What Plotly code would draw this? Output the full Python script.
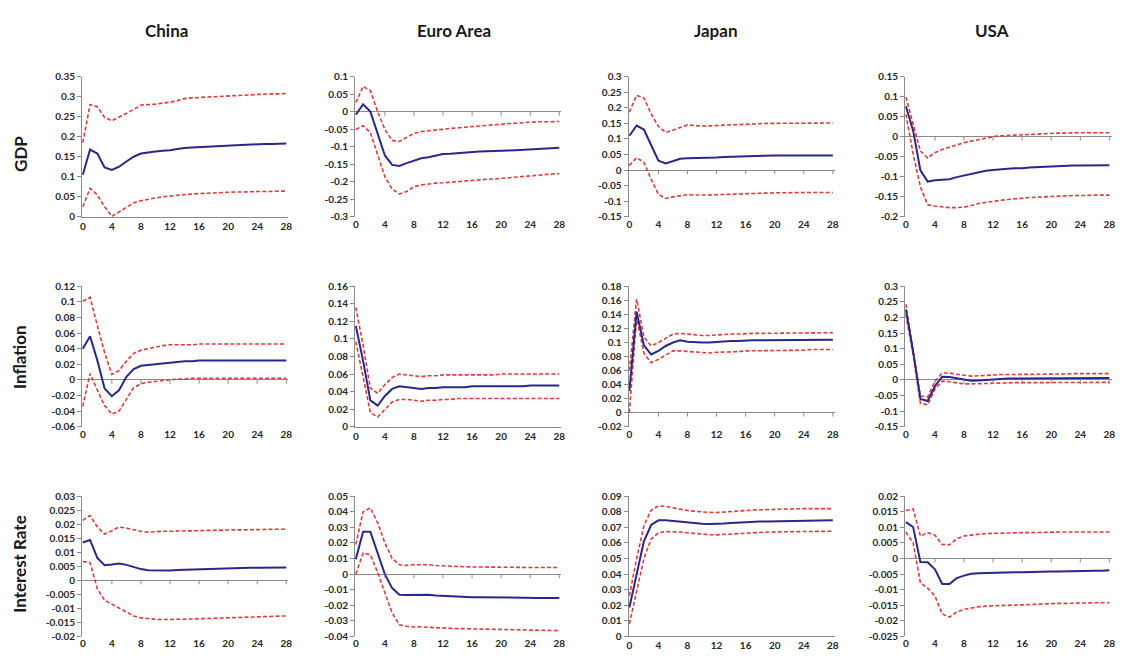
import plotly.graph_objects as go

# ---------------- data ----------------
HORIZON = list(range(29))
COUNTRIES = ["China", "Euro Area", "Japan", "USA"]
VARIABLES = ["GDP", "Inflation", "Interest Rate"]
X_TICKS = [0, 4, 8, 12, 16, 20, 24, 28]

# GDP responses
china_gdp = [0.105, 0.168, 0.158, 0.123, 0.117, 0.125, 0.138, 0.150, 0.158, 0.161, 0.163, 0.165, 0.166, 0.169, 0.172,
             0.173, 0.174, 0.175, 0.176, 0.177, 0.178, 0.179, 0.180, 0.181, 0.181, 0.182, 0.182, 0.183, 0.183]
china_gdp_hi = [0.185, 0.280, 0.275, 0.248, 0.240, 0.248, 0.258, 0.268, 0.279, 0.280, 0.281, 0.284, 0.286, 0.290, 0.295,
                0.297, 0.298, 0.299, 0.300, 0.301, 0.302, 0.303, 0.304, 0.305, 0.305, 0.306, 0.307, 0.307, 0.308]
china_gdp_lo = [0.025, 0.071, 0.055, 0.025, 0.001, 0.012, 0.025, 0.035, 0.040, 0.044, 0.047, 0.050, 0.052, 0.054, 0.056,
                0.057, 0.058, 0.059, 0.060, 0.060, 0.061, 0.062, 0.062, 0.063, 0.063, 0.063, 0.064, 0.064, 0.064]

euro_gdp = [-0.009, 0.021, 0.000, -0.065, -0.125, -0.152, -0.155, -0.147, -0.141, -0.133, -0.130, -0.126, -0.121, -0.120,
            -0.118, -0.117, -0.115, -0.114, -0.113, -0.113, -0.112, -0.111, -0.110, -0.109, -0.108, -0.107, -0.106,
            -0.105, -0.103]
euro_gdp_hi = [0.026, 0.072, 0.060, 0.000, -0.051, -0.082, -0.085, -0.073, -0.062, -0.057, -0.054, -0.052, -0.050,
               -0.048, -0.046, -0.044, -0.042, -0.040, -0.038, -0.037, -0.035, -0.034, -0.033, -0.031, -0.030, -0.029,
               -0.029, -0.028, -0.028]
euro_gdp_lo = [-0.051, -0.040, -0.060, -0.120, -0.186, -0.221, -0.235, -0.228, -0.214, -0.209, -0.206, -0.204, -0.203,
               -0.201, -0.200, -0.198, -0.196, -0.195, -0.193, -0.192, -0.190, -0.188, -0.186, -0.185, -0.183, -0.181,
               -0.180, -0.178, -0.177]

japan_gdp = [0.110, 0.143, 0.130, 0.080, 0.030, 0.021, 0.028, 0.036, 0.038, 0.038, 0.038, 0.039, 0.040, 0.042, 0.043,
             0.044, 0.045, 0.046, 0.046, 0.047, 0.047, 0.047, 0.047, 0.047, 0.047, 0.047, 0.047, 0.047, 0.047]
japan_gdp_hi = [0.186, 0.240, 0.232, 0.180, 0.140, 0.121, 0.128, 0.137, 0.145, 0.143, 0.141, 0.142, 0.143, 0.145, 0.147,
                0.148, 0.149, 0.149, 0.150, 0.150, 0.150, 0.150, 0.150, 0.150, 0.150, 0.151, 0.151, 0.151, 0.151]
japan_gdp_lo = [0.015, 0.040, 0.025, -0.030, -0.078, -0.091, -0.086, -0.082, -0.079, -0.080, -0.081, -0.080, -0.079,
                -0.078, -0.077, -0.077, -0.076, -0.075, -0.074, -0.074, -0.073, -0.073, -0.072, -0.072, -0.072, -0.072,
                -0.072, -0.072, -0.072]

usa_gdp = [0.076, 0.015, -0.084, -0.112, -0.109, -0.107, -0.106, -0.101, -0.097, -0.093, -0.088, -0.085, -0.083, -0.081,
           -0.080, -0.079, -0.079, -0.077, -0.076, -0.075, -0.074, -0.073, -0.073, -0.072, -0.072, -0.072, -0.071,
           -0.071, -0.071]
usa_gdp_hi = [0.099, 0.031, -0.036, -0.053, -0.040, -0.032, -0.026, -0.020, -0.015, -0.011, -0.007, -0.003, 0.000,
              0.002, 0.003, 0.004, 0.005, 0.006, 0.007, 0.007, 0.008, 0.009, 0.009, 0.010, 0.010, 0.010, 0.010, 0.010,
              0.010]
usa_gdp_lo = [0.056, -0.043, -0.125, -0.170, -0.173, -0.175, -0.177, -0.177, -0.176, -0.172, -0.167, -0.164, -0.161,
              -0.159, -0.157, -0.155, -0.154, -0.152, -0.151, -0.150, -0.149, -0.148, -0.148, -0.147, -0.147, -0.146,
              -0.146, -0.146, -0.146]

# Inflation responses
china_inf = [0.040, 0.056, 0.025, -0.011, -0.021, -0.013, 0.004, 0.014, 0.018, 0.019, 0.020, 0.021, 0.022, 0.023,
             0.024, 0.024, 0.025, 0.025, 0.025, 0.025, 0.025, 0.025, 0.025, 0.025, 0.025, 0.025, 0.025, 0.025, 0.025]
china_inf_hi = [0.101, 0.106, 0.070, 0.035, 0.007, 0.012, 0.024, 0.034, 0.038, 0.040, 0.042, 0.044, 0.045, 0.045,
                0.045, 0.045, 0.046, 0.046, 0.046, 0.046, 0.046, 0.046, 0.046, 0.046, 0.046, 0.046, 0.046, 0.046, 0.046]
china_inf_lo = [-0.034, 0.008, -0.013, -0.033, -0.044, -0.040, -0.025, -0.010, -0.005, -0.003, -0.002, -0.001, 0.000,
                0.001, 0.001, 0.002, 0.002, 0.002, 0.002, 0.002, 0.002, 0.002, 0.002, 0.002, 0.002, 0.002, 0.002,
                0.002, 0.002]

euro_inf = [0.115, 0.075, 0.030, 0.024, 0.035, 0.043, 0.046, 0.045, 0.044, 0.043, 0.044, 0.044, 0.045, 0.045, 0.045,
            0.045, 0.046, 0.046, 0.046, 0.046, 0.046, 0.046, 0.046, 0.046, 0.047, 0.047, 0.047, 0.047, 0.047]
euro_inf_hi = [0.136, 0.093, 0.044, 0.038, 0.048, 0.056, 0.060, 0.059, 0.058, 0.057, 0.058, 0.058, 0.059, 0.059,
               0.059, 0.059, 0.059, 0.059, 0.059, 0.059, 0.060, 0.060, 0.060, 0.060, 0.060, 0.060, 0.060, 0.060, 0.060]
euro_inf_lo = [0.097, 0.055, 0.016, 0.011, 0.020, 0.028, 0.031, 0.031, 0.030, 0.029, 0.030, 0.030, 0.031, 0.031,
               0.032, 0.032, 0.032, 0.032, 0.032, 0.032, 0.032, 0.032, 0.032, 0.032, 0.032, 0.032, 0.032, 0.032, 0.032]

japan_inf = [0.031, 0.144, 0.096, 0.083, 0.088, 0.095, 0.100, 0.103, 0.101, 0.100, 0.100, 0.100, 0.101, 0.101, 0.102,
             0.102, 0.103, 0.103, 0.103, 0.103, 0.103, 0.103, 0.103, 0.103, 0.104, 0.104, 0.104, 0.104, 0.104]
japan_inf_hi = [0.060, 0.162, 0.108, 0.095, 0.100, 0.106, 0.112, 0.113, 0.112, 0.110, 0.110, 0.110, 0.111, 0.111,
                0.112, 0.112, 0.113, 0.113, 0.113, 0.113, 0.113, 0.113, 0.113, 0.114, 0.114, 0.114, 0.114, 0.114, 0.114]
japan_inf_lo = [0.000, 0.136, 0.085, 0.071, 0.076, 0.082, 0.088, 0.088, 0.087, 0.086, 0.085, 0.085, 0.086, 0.086,
                0.087, 0.087, 0.088, 0.088, 0.088, 0.088, 0.089, 0.089, 0.089, 0.089, 0.089, 0.090, 0.090, 0.090, 0.090]

usa_inf = [0.226, 0.090, -0.061, -0.068, -0.020, 0.010, 0.009, 0.005, 0.000, -0.003, -0.002, 0.000, 0.002, 0.003,
           0.004, 0.004, 0.004, 0.004, 0.004, 0.004, 0.004, 0.005, 0.005, 0.005, 0.006, 0.006, 0.006, 0.006, 0.006]
usa_inf_hi = [0.243, 0.100, -0.052, -0.055, -0.005, 0.022, 0.022, 0.018, 0.014, 0.012, 0.013, 0.015, 0.016, 0.017,
              0.017, 0.017, 0.017, 0.017, 0.018, 0.018, 0.018, 0.019, 0.019, 0.020, 0.020, 0.020, 0.020, 0.020, 0.020]
usa_inf_lo = [0.210, 0.080, -0.075, -0.080, -0.030, -0.004, -0.006, -0.009, -0.013, -0.013, -0.012, -0.011, -0.010,
              -0.010, -0.009, -0.009, -0.009, -0.009, -0.008, -0.008, -0.008, -0.008, -0.008, -0.008, -0.008, -0.008,
              -0.008, -0.008, -0.008]

# Interest rate responses
china_int = [0.0135, 0.0144, 0.0080, 0.0054, 0.0056, 0.0060, 0.0055, 0.0047, 0.0040, 0.0036, 0.0035, 0.0034, 0.0035,
             0.0037, 0.0038, 0.0039, 0.0040, 0.0041, 0.0042, 0.0042, 0.0043, 0.0044, 0.0044, 0.0045, 0.0045, 0.0045,
             0.0046, 0.0046, 0.0046]
china_int_hi = [0.0214, 0.0231, 0.0190, 0.0165, 0.0177, 0.0190, 0.0186, 0.0180, 0.0175, 0.0172, 0.0174, 0.0175,
                0.0175, 0.0175, 0.0175, 0.0176, 0.0177, 0.0178, 0.0179, 0.0180, 0.0180, 0.0180, 0.0180, 0.0181,
                0.0181, 0.0181, 0.0182, 0.0182, 0.0182]
china_int_lo = [0.0067, 0.0063, -0.0030, -0.0071, -0.0085, -0.0100, -0.0115, -0.0127, -0.0134, -0.0137, -0.0139,
                -0.0140, -0.0140, -0.0140, -0.0139, -0.0138, -0.0137, -0.0136, -0.0135, -0.0135, -0.0134, -0.0133,
                -0.0132, -0.0131, -0.0130, -0.0129, -0.0128, -0.0128, -0.0127]

euro_int = [0.0096, 0.0272, 0.0272, 0.0140, -0.0002, -0.0090, -0.0132, -0.0135, -0.0133, -0.0131, -0.0132, -0.0137,
            -0.0140, -0.0143, -0.0145, -0.0147, -0.0148, -0.0149, -0.0150, -0.0151, -0.0152, -0.0152, -0.0153,
            -0.0153, -0.0153, -0.0153, -0.0153, -0.0153, -0.0153]
euro_int_hi = [0.0190, 0.0400, 0.0425, 0.0330, 0.0200, 0.0100, 0.0060, 0.0056, 0.0060, 0.0062, 0.0060, 0.0055,
               0.0052, 0.0050, 0.0048, 0.0047, 0.0046, 0.0045, 0.0044, 0.0043, 0.0043, 0.0043, 0.0042, 0.0042,
               0.0042, 0.0042, 0.0042, 0.0042, 0.0042]
euro_int_lo = [0.0000, 0.0135, 0.0125, 0.0010, -0.0120, -0.0250, -0.0325, -0.0335, -0.0340, -0.0338, -0.0342,
               -0.0345, -0.0347, -0.0349, -0.0350, -0.0351, -0.0352, -0.0353, -0.0354, -0.0355, -0.0357, -0.0358,
               -0.0359, -0.0359, -0.0360, -0.0361, -0.0362, -0.0362, -0.0363]

japan_int = [0.0185, 0.0400, 0.0610, 0.0715, 0.0745, 0.0745, 0.0740, 0.0735, 0.0730, 0.0727, 0.0723, 0.0722, 0.0722,
             0.0725, 0.0728, 0.0731, 0.0733, 0.0735, 0.0737, 0.0738, 0.0739, 0.0740, 0.0741, 0.0742, 0.0742, 0.0743,
             0.0744, 0.0745, 0.0745]
japan_int_hi = [0.0260, 0.0500, 0.0710, 0.0810, 0.0838, 0.0835, 0.0825, 0.0815, 0.0808, 0.0803, 0.0798, 0.0796,
                0.0795, 0.0799, 0.0803, 0.0806, 0.0808, 0.0811, 0.0813, 0.0815, 0.0816, 0.0817, 0.0818, 0.0819,
                0.0820, 0.0820, 0.0820, 0.0820, 0.0820]
japan_int_lo = [0.0080, 0.0290, 0.0500, 0.0625, 0.0665, 0.0673, 0.0672, 0.0670, 0.0665, 0.0660, 0.0655, 0.0653,
                0.0652, 0.0655, 0.0658, 0.0661, 0.0664, 0.0666, 0.0668, 0.0670, 0.0671, 0.0672, 0.0672, 0.0673,
                0.0673, 0.0674, 0.0674, 0.0675, 0.0675]

usa_int = [0.0117, 0.0101, -0.0011, -0.0012, -0.0035, -0.0082, -0.0082, -0.0063, -0.0055, -0.0049, -0.0047, -0.0046,
           -0.0046, -0.0045, -0.0045, -0.0044, -0.0044, -0.0043, -0.0043, -0.0042, -0.0042, -0.0042, -0.0041,
           -0.0041, -0.0041, -0.0040, -0.0039, -0.0039, -0.0038]
usa_int_hi = [0.0154, 0.0159, 0.0072, 0.0083, 0.0075, 0.0045, 0.0044, 0.0063, 0.0072, 0.0076, 0.0078, 0.0080,
              0.0081, 0.0081, 0.0082, 0.0082, 0.0083, 0.0083, 0.0084, 0.0084, 0.0085, 0.0085, 0.0085, 0.0085,
              0.0085, 0.0085, 0.0085, 0.0085, 0.0085]
usa_int_lo = [0.0085, 0.0050, -0.0078, -0.0095, -0.0120, -0.0178, -0.0188, -0.0172, -0.0163, -0.0158, -0.0155,
              -0.0153, -0.0152, -0.0150, -0.0149, -0.0148, -0.0147, -0.0146, -0.0146, -0.0145, -0.0145, -0.0144,
              -0.0144, -0.0143, -0.0143, -0.0143, -0.0142, -0.0142, -0.0142]

# y-axis tick scales (min, max, step) per panel
gdp_scales = [(0, 0.35, 0.05), (-0.3, 0.1, 0.05), (-0.15, 0.3, 0.05), (-0.2, 0.15, 0.05)]
inf_scales = [(-0.06, 0.12, 0.02), (0, 0.16, 0.02), (-0.02, 0.18, 0.02), (-0.15, 0.3, 0.05)]
int_scales = [(-0.02, 0.03, 0.005), (-0.04, 0.05, 0.01), (0, 0.09, 0.01), (-0.025, 0.02, 0.005)]

ROWS = [
    [(china_gdp, china_gdp_hi, china_gdp_lo), (euro_gdp, euro_gdp_hi, euro_gdp_lo),
     (japan_gdp, japan_gdp_hi, japan_gdp_lo), (usa_gdp, usa_gdp_hi, usa_gdp_lo)],
    [(china_inf, china_inf_hi, china_inf_lo), (euro_inf, euro_inf_hi, euro_inf_lo),
     (japan_inf, japan_inf_hi, japan_inf_lo), (usa_inf, usa_inf_hi, usa_inf_lo)],
    [(china_int, china_int_hi, china_int_lo), (euro_int, euro_int_hi, euro_int_lo),
     (japan_int, japan_int_hi, japan_int_lo), (usa_int, usa_int_hi, usa_int_lo)],
]
SCALES = [gdp_scales, inf_scales, int_scales]

# ---------------- styling / geometry ----------------
W, H = 1122, 662
COL_PX = [(80.5, 288.0), (355.0, 562.5), (630.0, 837.5), (908.0, 1115.5)]
ROW_PX = [(71.0, 214.0), (285.0, 428.0), (499.0, 642.0)]
BLUE = "#28288C"
RED = "#E0393C"
AXIS_GRAY = "#8A8A8A"
FONT = "Lato"
TICK_FONT = dict(family=FONT, size=10, color="#262626", weight="bold")


def fmt(v):
    s = f"{v:g}"
    return "0" if s in ("-0", "0") else s


fig = go.Figure()
layout = dict(
    width=W, height=H, margin=dict(l=0, r=0, t=0, b=0),
    paper_bgcolor="white", plot_bgcolor="white", showlegend=False,
    font=dict(family=FONT),
)
shapes = []
annotations = []

idx = 0
for r, row in enumerate(ROWS):
    for c, (mid, hi, lo) in enumerate(row):
        idx += 1
        sfx = "" if idx == 1 else str(idx)
        xname, yname = "x" + sfx, "y" + sfx
        ymin, ymax, step = SCALES[r][c]
        n = int(round((ymax - ymin) / step))
        tvals = [round(ymin + i * step, 4) for i in range(n + 1)]
        ttext = [fmt(v) for v in tvals]

        for ser, color, dash, width in ((hi, RED, "4px,2.2px", 1.6), (lo, RED, "4px,2.2px", 1.6),
                                        (mid, BLUE, "solid", 2.0)):
            fig.add_trace(go.Scatter(x=HORIZON, y=ser, mode="lines", xaxis=xname, yaxis=yname,
                                     line=dict(color=color, width=width, dash=dash), hoverinfo="skip"))

        x0p, x1p = COL_PX[c]
        y0p, y1p = ROW_PX[r]
        layout["xaxis" + sfx] = dict(
            domain=[x0p / W, x1p / W], anchor=yname, range=[-0.1, 28.3],
            tickvals=X_TICKS, ticktext=[str(t) for t in X_TICKS], tickfont=TICK_FONT,
            showgrid=False, zeroline=False, showline=(ymin == 0), linecolor=AXIS_GRAY, linewidth=1,
            ticks="", fixedrange=True,
        )
        layout["yaxis" + sfx] = dict(
            domain=[1 - y1p / H, 1 - y0p / H], anchor=xname, range=[ymin, ymax],
            tickvals=tvals, ticktext=ttext, tickfont=TICK_FONT,
            showgrid=False, zeroline=True, zerolinecolor=AXIS_GRAY, zerolinewidth=1,
            showline=True, linecolor=AXIS_GRAY, linewidth=1,
            ticks="outside", ticklen=4, tickcolor=AXIS_GRAY, tickwidth=1, fixedrange=True,
        )
        # small tick marks on the horizontal (zero) axis
        for t in X_TICKS[1:]:
            shapes.append(dict(type="line", xref=xname, yref=yname, x0=t, x1=t,
                               ysizemode="pixel", yanchor=0, y0=0, y1=-4,
                               line=dict(color=AXIS_GRAY, width=1)))

# column titles
COL_TITLE_X = [165, 454, 718, 995]
for name, xp in zip(COUNTRIES, COL_TITLE_X):
    annotations.append(dict(text=f"<b>{name}</b>", x=xp / W, y=1 - 24 / H, xref="paper", yref="paper",
                            showarrow=False, xanchor="center", yanchor="middle",
                            font=dict(family=FONT, size=17, color="#1a1a1a")))
# row titles
ROW_TITLE_Y = [150, 357, 568]
for name, yp in zip(VARIABLES, ROW_TITLE_Y):
    annotations.append(dict(text=f"<b>{name}</b>", x=18 / W, y=1 - yp / H, xref="paper", yref="paper",
                            showarrow=False, xanchor="center", yanchor="middle", textangle=-90,
                            font=dict(family=FONT, size=17, color="#1a1a1a")))

layout["shapes"] = shapes
layout["annotations"] = annotations
fig.update_layout(**layout)
fig.write_html("out.html", config={"displayModeBar": False},
               post_script="document.body.style.margin='0';document.body.style.overflow='hidden';")
